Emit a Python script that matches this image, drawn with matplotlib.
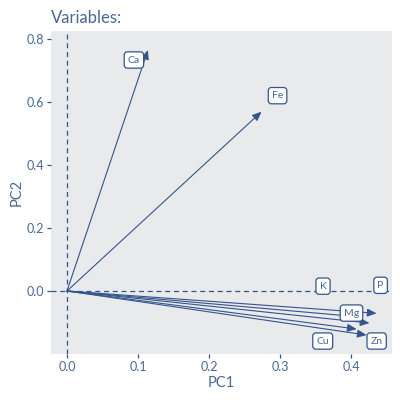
import matplotlib
matplotlib.use("Agg")
import matplotlib.pyplot as plt

# PCA variable loadings (PC1, PC2)
variables = ["Ca", "Fe", "K", "P", "Mg", "Cu", "Zn"]
pc1 = [0.114, 0.274, 0.400, 0.436, 0.426, 0.408, 0.422]
pc2 = [0.766, 0.570, -0.080, -0.071, -0.102, -0.121, -0.140]

x_ticks = [0.0, 0.1, 0.2, 0.3, 0.4]
x_tick_labels = ["0.0", "0.1", "0.2", "0.3", "0.4"]
y_ticks = [0.0, 0.2, 0.4, 0.6, 0.8]
y_tick_labels = ["0.0", "0.2", "0.4", "0.6", "0.8"]

# label offsets from arrow tip, in pixels (repel-like placement)
label_offsets = {
    "Ca": (-14, -10), "Fe": (16, 16), "K": (-28, 30), "P": (4, 28),
    "Mg": (-18, 10), "Cu": (-34, -12), "Zn": (10, -6),
}

blue = "#34558b"
text_blue = "#4a6796"
panel = "#e9eaec"

plt.rcParams["font.family"] = ["Lato", "DejaVu Sans"]

fig = plt.figure(figsize=(4, 4), dpi=100)
ax = fig.add_axes([51 / 400, 1 - 354 / 400, 341 / 400, 323 / 400])
ax.set_facecolor(panel)

ax.set_xlim(-0.0225, 0.4577)
ax.set_ylim(-0.2003, 0.8264)

ax.axhline(0, color=blue, lw=0.9, ls=(0, (4, 3)), zorder=1)
ax.axvline(0, color=blue, lw=0.9, ls=(0, (4, 3)), zorder=1)

for name, x, y in zip(variables, pc1, pc2):
    ax.annotate("", xy=(x, y), xytext=(0, 0),
                arrowprops=dict(arrowstyle="-|>,head_length=0.7,head_width=0.3",
                                color=blue, lw=0.8,
                                mutation_scale=8, shrinkA=0, shrinkB=0),
                zorder=2)

for name, x, y in zip(variables, pc1, pc2):
    dx, dy = label_offsets[name]
    ax.annotate(name, xy=(x, y), xytext=(dx, dy), textcoords="offset pixels",
                ha="center", va="center", fontsize=7.5, color=text_blue,
                bbox=dict(boxstyle="round,pad=0.35,rounding_size=0.3",
                          fc="white", ec=blue, lw=0.9),
                zorder=3)

for s in ax.spines.values():
    s.set_visible(False)

ax.set_xticks(x_ticks)
ax.set_xticklabels(x_tick_labels)
ax.set_yticks(y_ticks)
ax.set_yticklabels(y_tick_labels)
ax.tick_params(colors=blue, labelcolor=text_blue, labelsize=9, length=3,
               width=0.9, pad=2)

ax.set_xlabel("PC1", color=text_blue, fontsize=10.5, labelpad=2)
ax.set_ylabel("PC2", color=text_blue, fontsize=10.5, labelpad=2)
ax.set_title("Variables:", loc="left", color=text_blue, fontsize=12,
             pad=6, x=0.0)

fig.savefig("out.png", dpi=100)
